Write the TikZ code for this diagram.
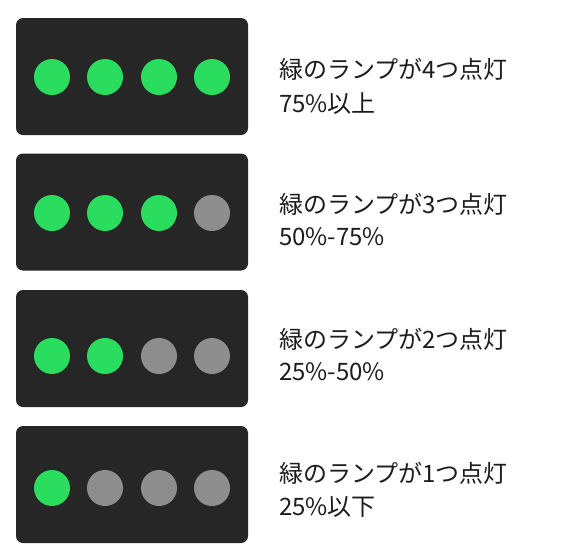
\documentclass[tikz,border=0pt]{standalone}
\usepackage{fontspec}
\newfontfamily\jpfont{Noto Sans CJK JP}
\definecolor{panel}{HTML}{262626}
\definecolor{lampon}{HTML}{2ADD5F}
\definecolor{lampoff}{HTML}{8E8E8E}
\definecolor{txt}{HTML}{1C1C1C}
\tikzset{
  panelbox/.style={fill=panel,rounded corners=7pt,draw=none,minimum width=232pt,minimum height=117pt,inner sep=0pt},
  on/.style={circle,fill=lampon,minimum size=36pt,inner sep=0pt},
  off/.style={circle,fill=lampoff,minimum size=36pt,inner sep=0pt},
  lbl/.style={anchor=base west,inner sep=0pt,font=\jpfont\fontsize{24pt}{28pt}\selectfont,text=txt}
}
\begin{document}
\begin{tikzpicture}[x=1pt,y=-1pt]
\useasboundingbox (0,0) rectangle (580,555);
% panel 1
\node[panelbox] (p1) at (132,76.5) {};
\node[on] (p1a) at (52,77) {};
\node[on] (p1b) at (105,77) {};
\node[on] (p1c) at (159,77) {};
\node[on] (p1d) at (212,77) {};
\node[lbl] (t1a) at (279,78) {緑のランプが4つ点灯};
\node[lbl] (t1b) at (279,112) {75\%以上};
% panel 2
\node[panelbox] (p2) at (132,212) {};
\node[on] (p2a) at (52,213) {};
\node[on] (p2b) at (105,213) {};
\node[on] (p2c) at (159,213) {};
\node[off] (p2d) at (212,213) {};
\node[lbl] (t2a) at (279,213) {緑のランプが3つ点灯};
\node[lbl] (t2b) at (279,245) {50\%-75\%};
% panel 3
\node[panelbox] (p3) at (132,348.5) {};
\node[on] (p3a) at (52,356) {};
\node[on] (p3b) at (105,356) {};
\node[off] (p3c) at (159,356) {};
\node[off] (p3d) at (212,356) {};
\node[lbl] (t3a) at (279,348) {緑のランプが2つ点灯};
\node[lbl] (t3b) at (279,380) {25\%-50\%};
% panel 4
\node[panelbox] (p4) at (132,484.5) {};
\node[on] (p4a) at (52,488) {};
\node[off] (p4b) at (105,488) {};
\node[off] (p4c) at (159,488) {};
\node[off] (p4d) at (212,488) {};
\node[lbl] (t4a) at (279,482) {緑のランプが1つ点灯};
\node[lbl] (t4b) at (279,515) {25\%以下};
\end{tikzpicture}
\end{document}
